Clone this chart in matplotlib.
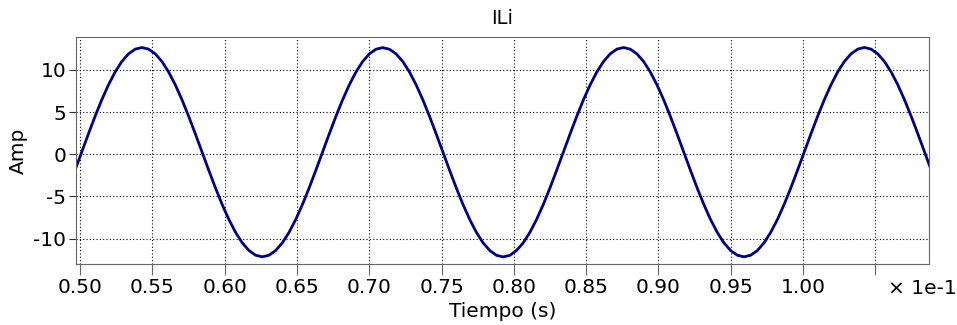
import matplotlib
matplotlib.use("Agg")
import matplotlib.pyplot as plt
import numpy as np
from matplotlib.ticker import FuncFormatter

t_start = 0.0496536   # s
t_step = 0.00046264   # s
amp = [
    -1.90,
    0.25, 2.40, 4.49, 6.45, 8.22, 9.75, 10.99, 11.90, 12.46, 12.65, 12.46, 11.90,
    10.99, 9.75, 8.22, 6.45, 4.49, 2.40, 0.25, -1.90, -3.99, -5.95, -7.72, -9.25,
    -10.49, -11.40, -11.96, -12.15, -11.96, -11.40, -10.49, -9.25, -7.72, -5.95, -3.99, -1.90,
    0.25, 2.40, 4.49, 6.45, 8.22, 9.75, 10.99, 11.90, 12.45, 12.64, 12.45, 11.90,
    10.99, 9.75, 8.22, 6.45, 4.49, 2.40, 0.25, -1.90, -3.99, -5.95, -7.72, -9.25,
    -10.49, -11.40, -11.97, -12.16, -11.97, -11.40, -10.49, -9.25, -7.72, -5.95, -3.99, -1.90,
    0.25, 2.40, 4.49, 6.45, 8.22, 9.75, 10.99, 11.90, 12.46, 12.65, 12.46, 11.90,
    10.99, 9.75, 8.22, 6.45, 4.49, 2.40, 0.25, -1.90, -3.99, -5.95, -7.72, -9.25,
    -10.49, -11.40, -11.96, -12.15, -11.96, -11.40, -10.49, -9.25, -7.72, -5.95, -3.99, -1.90,
    0.25, 2.40, 4.49, 6.45, 8.22, 9.75, 10.99, 11.90, 12.46, 12.66, 12.46, 11.90,
    10.99, 9.75, 8.22, 6.45, 4.49, 2.40, 0.25, -1.90,
]
x_ticks = [0.050, 0.055, 0.060, 0.065, 0.070, 0.075, 0.080, 0.085, 0.090, 0.095, 0.100, 0.105]
y_ticks = [-10, -5, 0, 5, 10]

t = t_start + t_step * np.arange(len(amp))

plt.rcParams["font.family"] = "DejaVu Sans"
plt.rcParams["axes.unicode_minus"] = False
fig = plt.figure(figsize=(9.57, 3.25), dpi=100)
ax = fig.add_axes([0.0794, 0.1877, 0.8913, 0.6985])

ax.plot(t, amp, color="#000080", lw=2.0, solid_joinstyle="round")

ax.set_xlim(0.049723, 0.10871)
ax.set_ylim(-13.0, 13.9)
ax.set_xticks(x_ticks)
ax.set_yticks(y_ticks)
ax.xaxis.set_major_formatter(
    FuncFormatter(lambda v, p: "" if v > 0.1025 else f"{v * 10:.2f}"))
ax.grid(True, color="black", linestyle=(0, (1, 2)), lw=0.8)

for s in ax.spines.values():
    s.set_color("#666666")
ax.tick_params(axis="x", length=8, color="#666666", labelsize=14.5, pad=2)
ax.tick_params(axis="y", length=5, color="#333333", labelsize=14.5, pad=2)

ax.set_title("ILi", fontsize=14, pad=9)
ax.set_xlabel("Tiempo (s)", fontsize=14.5, labelpad=4)
ax.set_ylabel("Amp", fontsize=14.5, labelpad=4)
ax.text(0.992, -0.068, "× 1e-1", transform=ax.transAxes, ha="center",
        va="top", fontsize=14.5)

fig.savefig("out.png", dpi=100)
